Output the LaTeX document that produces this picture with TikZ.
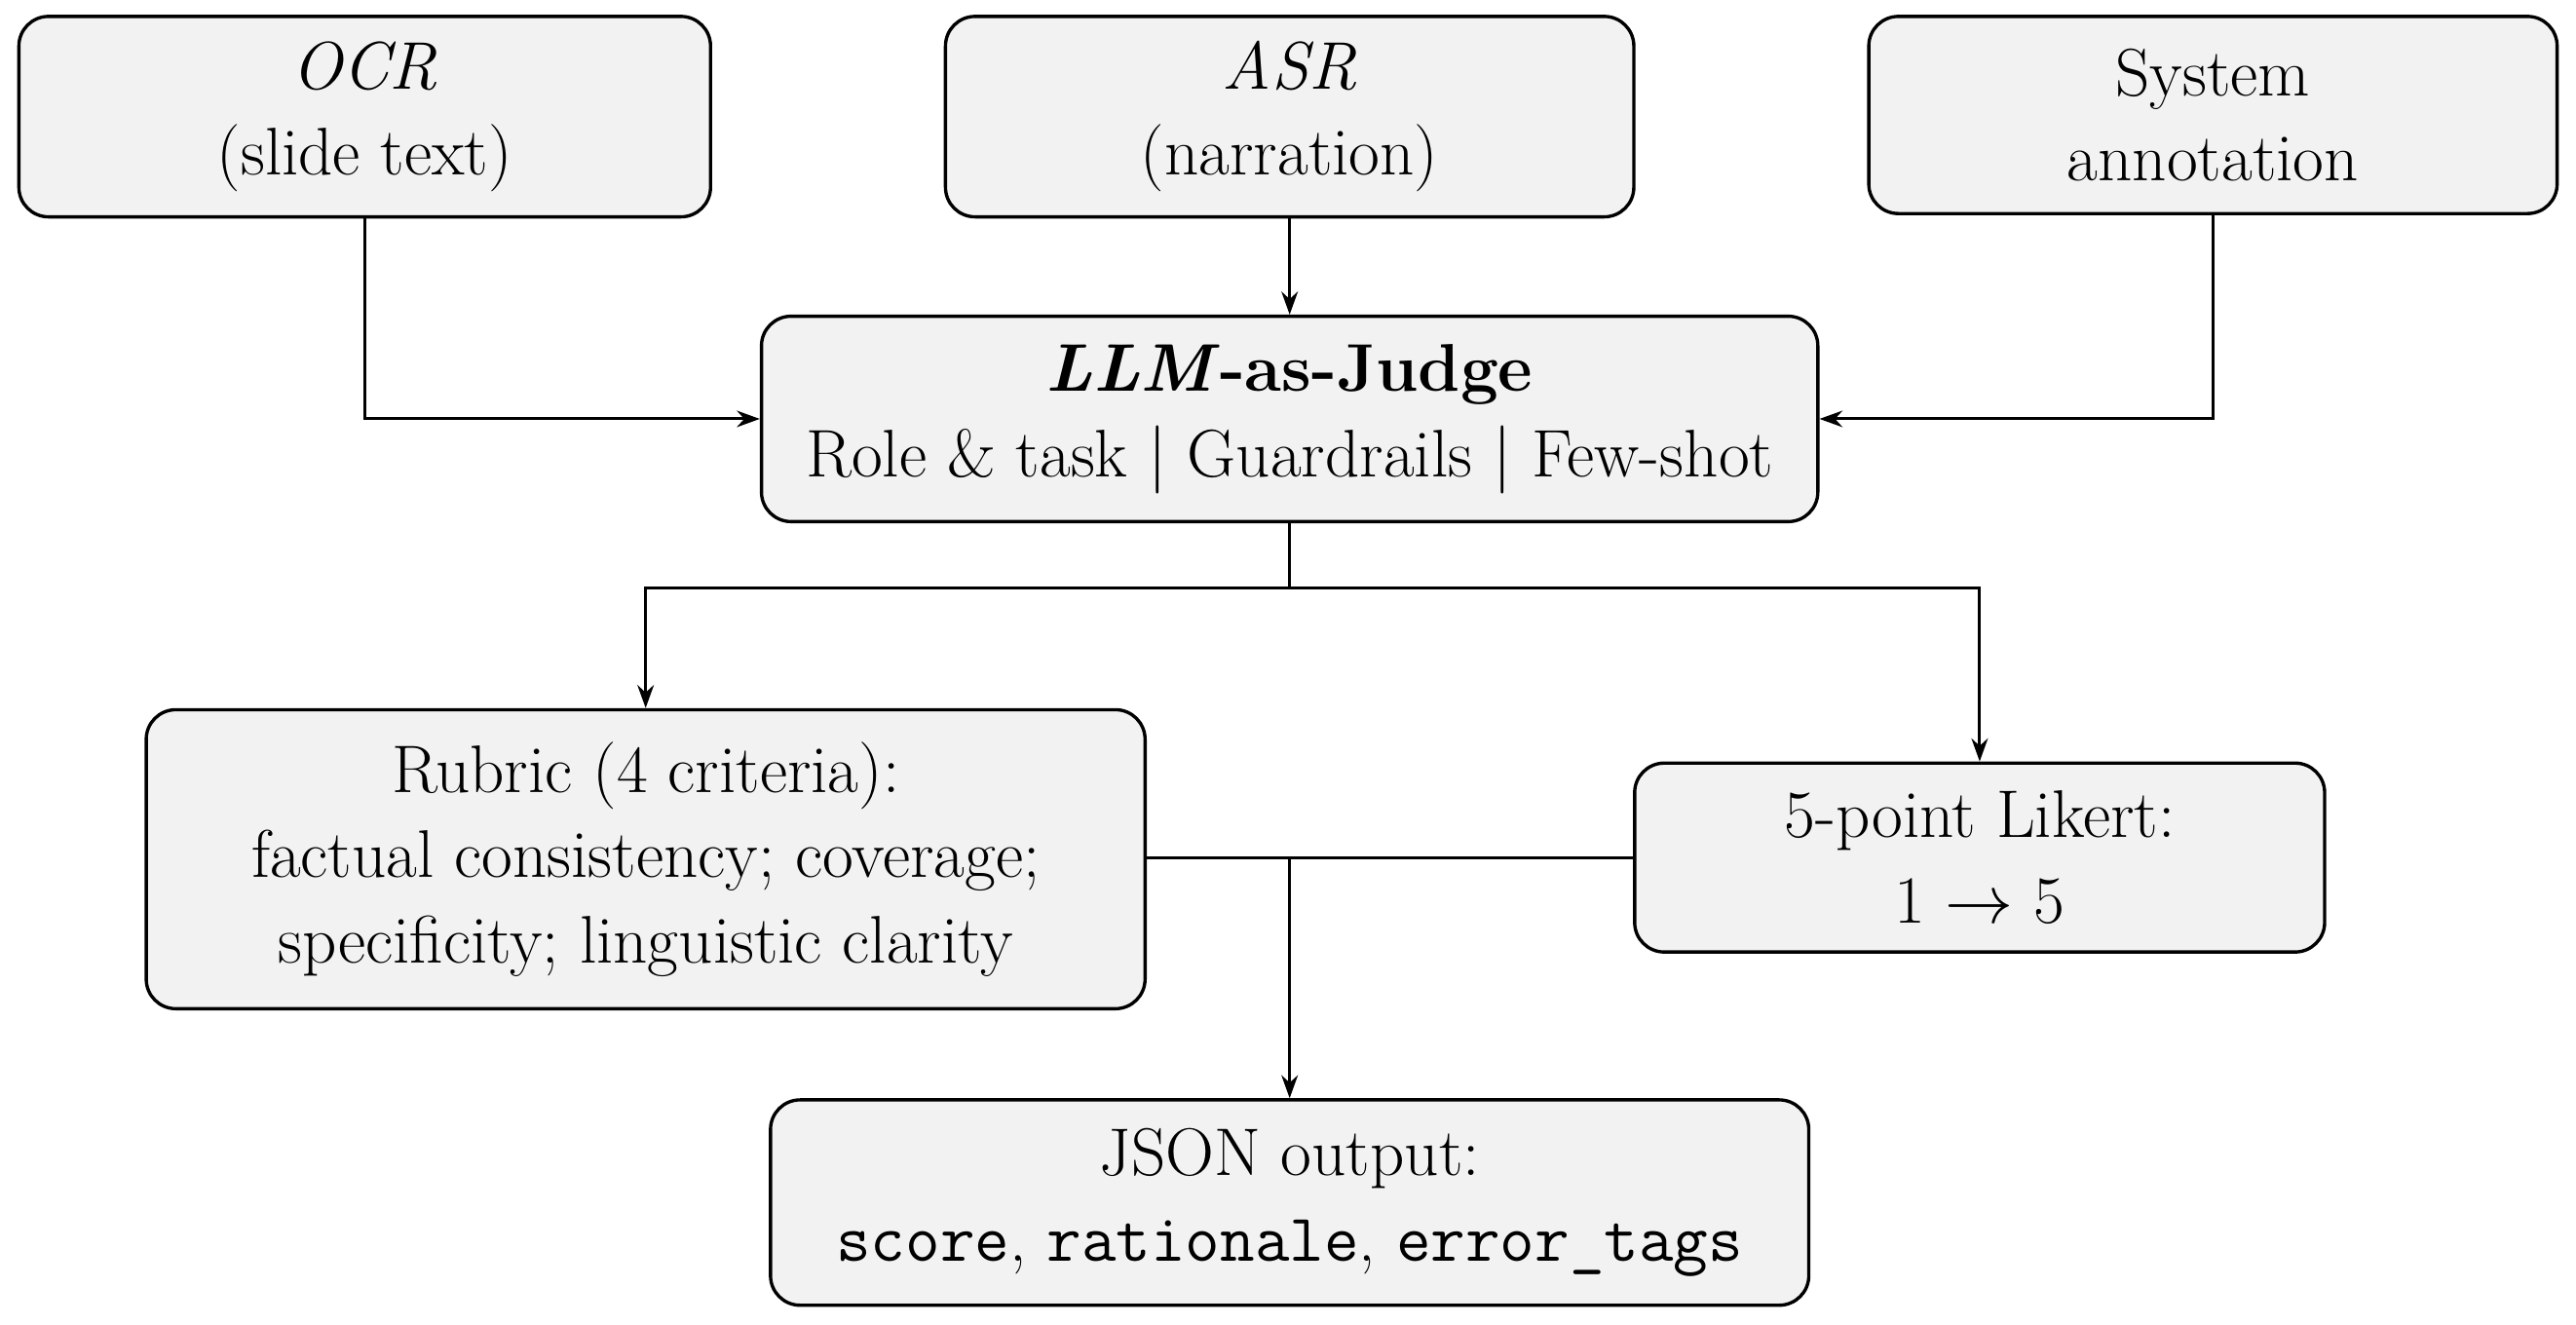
\documentclass[tikz,border=0pt]{standalone}
\usetikzlibrary{arrows.meta}
\begin{document}
\begin{tikzpicture}[x=0.5pt,y=-0.5pt,
  box/.style={draw,line width=1pt,rounded corners=9pt,fill=gray!10,align=center,
    inner sep=0pt,font=\fontsize{20.5}{26}\selectfont},
  conn/.style={line width=0.9pt},
  arr/.style={conn,-{Stealth[length=7pt,width=5pt]}}]
\useasboundingbox (0,0) rectangle (1568,806);
\node[box,minimum width=210.5pt,minimum height=61pt] (ocr) at (222,71) {\textit{OCR}\\(slide text)};
\node[box,minimum width=209.5pt,minimum height=61pt] (asr) at (785,71) {\textit{ASR}\\(narration)};
\node[box,minimum width=209.5pt,minimum height=60pt] (sys) at (1347,70) {System\\annotation};
\node[box,minimum width=321.5pt,minimum height=62.5pt] (judge) at (785,255) {\textbf{\textit{LLM}-as-Judge}\\Role \& task $|$ Guardrails $|$ Few-shot};
\node[box,minimum width=304pt,minimum height=91pt] (rub) at (393,523) {Rubric (4 criteria):\\factual consistency; coverage;\\specificity; linguistic clarity};
\node[box,minimum width=210pt,minimum height=57.5pt] (lik) at (1205,522) {5-point Likert:\\1 $\to$ 5};
\node[box,minimum width=316pt,minimum height=62.5pt] (json) at (785,732) {JSON output:\\\texttt{score}, \texttt{rationale}, \texttt{error\_tags}};
\coordinate (split) at (785,358);
\coordinate (merge) at (785,522);
\draw[arr] (ocr.south) |- (judge.west);
\draw[arr] (sys.south) |- (judge.east);
\draw[arr] (asr.south) -- (judge.north);
\draw[conn] (judge.south) -- (split);
\draw[arr] (split) -| (rub.north);
\draw[arr] (split) -| (lik.north);
\draw[conn] (rub.east |- merge) -- (lik.west |- merge);
\draw[arr] (merge) -- (json.north);
\end{tikzpicture}
\end{document}
